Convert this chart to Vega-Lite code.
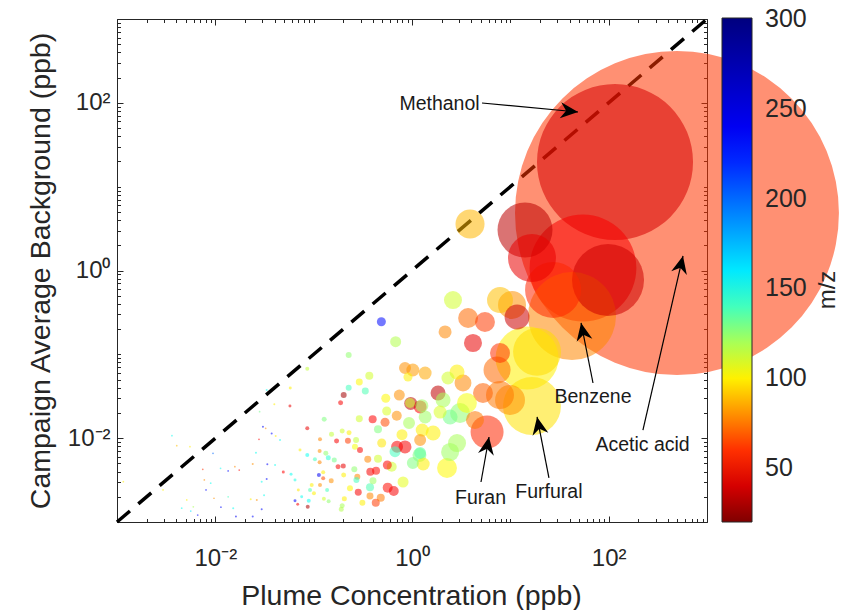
{
  "$schema": "https://vega.github.io/schema/vega-lite/v6.json",
  "width": 590,
  "height": 503,
  "autosize": {"type": "none"},
  "padding": {"left": 117, "top": 19, "right": 138, "bottom": 88},
  "background": "#ffffff",
  "config": {
    "font": "Liberation Sans",
    "view": {"stroke": null},
    "axis": {"grid": false, "domainColor": "#262626", "tickColor": "#262626", "labelColor": "#262626", "titleColor": "#262626", "labelFont": "Liberation Sans", "titleFont": "Liberation Sans", "titleFontWeight": "normal", "labelFlush": false, "labelOverlap": false, "tickWidth": 1, "domainWidth": 1}
  },
  "datasets": {
    "diag": [{"x": 0.001, "y": 0.001}, {"x": 1000, "y": 1000}],
    "notes": [
      {"label": "Methanol", "tx": 1.905, "ty": 96.8, "x1": 5.15, "y1": 99.6, "x2": 48.8, "y2": 77.8},
      {"label": "Benzene", "tx": 69.3, "ty": 0.031, "x1": 69.3, "y1": 0.0455, "x2": 52.4, "y2": 0.2366},
      {"label": "Acetic acid", "tx": 221, "ty": 0.00829, "x1": 223, "y1": 0.0125, "x2": 570, "y2": 1.49},
      {"label": "Furan", "tx": 4.98, "ty": 0.00193, "x1": 5.03, "y1": 0.003, "x2": 6.07, "y2": 0.01033},
      {"label": "Furfural", "tx": 24.7, "ty": 0.00228, "x1": 24.7, "y1": 0.00335, "x2": 18.7, "y2": 0.0179}
    ],
    "pts": [
      {"x": 495, "y": 4.85, "s": 1030, "mz": 61},
      {"x": 116, "y": 19.7, "s": 239, "mz": 40},
      {"x": 54.8, "y": 1.07, "s": 112, "mz": 48},
      {"x": 42.4, "y": 0.286, "s": 76, "mz": 78},
      {"x": 98.5, "y": 0.771, "s": 50.9, "mz": 38},
      {"x": 14.8, "y": 0.0903, "s": 39, "mz": 100},
      {"x": 16.6, "y": 0.0242, "s": 33, "mz": 97},
      {"x": 27.2, "y": 0.586, "s": 30.8, "mz": 58},
      {"x": 14.1, "y": 3.04, "s": 29.7, "mz": 34},
      {"x": 16.6, "y": 1.41, "s": 22.6, "mz": 45},
      {"x": 18.7, "y": 0.107, "s": 22.6, "mz": 96},
      {"x": 5.8, "y": 0.01186, "s": 10.7, "mz": 58},
      {"x": 9.93, "y": 0.0285, "s": 8.8, "mz": 80},
      {"x": 3.89, "y": 3.59, "s": 8.3, "mz": 88},
      {"x": 10.4, "y": 0.388, "s": 7.7, "mz": 80},
      {"x": 7.85, "y": 0.0327, "s": 7.7, "mz": 75},
      {"x": 7.33, "y": 0.065, "s": 7.2, "mz": 72},
      {"x": 7.85, "y": 0.444, "s": 6.6, "mz": 90},
      {"x": 11.7, "y": 0.279, "s": 6.1, "mz": 38},
      {"x": 3.72, "y": 0.271, "s": 3.9, "mz": 72},
      {"x": 5.52, "y": 0.243, "s": 3.9, "mz": 62},
      {"x": 7.85, "y": 0.1038, "s": 3.9, "mz": 60},
      {"x": 5.27, "y": 0.0346, "s": 3.9, "mz": 70},
      {"x": 3.08, "y": 0.02, "s": 3.9, "mz": 125},
      {"x": 3.62, "y": 0.0263, "s": 3.9, "mz": 105},
      {"x": 2.27, "y": 0.0044, "s": 3.9, "mz": 102},
      {"x": 2.61, "y": 0.444, "s": 3.2, "mz": 112},
      {"x": 4.17, "y": 0.1365, "s": 3.2, "mz": 45},
      {"x": 2.44, "y": 0.00684, "s": 3.2, "mz": 122},
      {"x": 2.87, "y": 0.00875, "s": 3.2, "mz": 120},
      {"x": 4.37, "y": 0.0165, "s": 3.2, "mz": 75},
      {"x": 3.3, "y": 0.0455, "s": 2.8, "mz": 78},
      {"x": 2.44, "y": 0.0179, "s": 2.2, "mz": 130},
      {"x": 1.84, "y": 0.0346, "s": 2.2, "mz": 35},
      {"x": 2.07, "y": 0.0285, "s": 2.2, "mz": 120},
      {"x": 2.87, "y": 0.0615, "s": 2.2, "mz": 100},
      {"x": 1.64, "y": 0.01153, "s": 2.2, "mz": 100},
      {"x": 1.19, "y": 0.00629, "s": 1.9, "mz": 128},
      {"x": 2.17, "y": 0.185, "s": 1.66, "mz": 78},
      {"x": 1.02, "y": 0.065, "s": 1.66, "mz": 82},
      {"x": 1.36, "y": 0.0598, "s": 1.66, "mz": 85},
      {"x": 2.32, "y": 0.0522, "s": 1.66, "mz": 112},
      {"x": 1.21, "y": 0.0236, "s": 1.66, "mz": 50},
      {"x": 1.93, "y": 0.0205, "s": 1.66, "mz": 110},
      {"x": 1.36, "y": 0.0179, "s": 1.66, "mz": 122},
      {"x": 0.849, "y": 0.00786, "s": 1.66, "mz": 48},
      {"x": 0.97, "y": 0.026, "s": 1.66, "mz": 35},
      {"x": 1.26, "y": 0.0244, "s": 1.66, "mz": 122},
      {"x": 1.27, "y": 0.0125, "s": 1.66, "mz": 100},
      {"x": 1.3, "y": 0.00492, "s": 1.66, "mz": 100},
      {"x": 1.02, "y": 0.00506, "s": 1.41, "mz": 128},
      {"x": 0.849, "y": 0.0687, "s": 1.41, "mz": 80},
      {"x": 1.21, "y": 0.00665, "s": 1.41, "mz": 135},
      {"x": 1.21, "y": 0.0095, "s": 1.41, "mz": 80},
      {"x": 0.933, "y": 0.0152, "s": 1.41, "mz": 120},
      {"x": 0.705, "y": 0.0079, "s": 1.41, "mz": 48},
      {"x": 0.682, "y": 0.1416, "s": 1.19, "mz": 118},
      {"x": 0.811, "y": 0.003, "s": 1.19, "mz": 108},
      {"x": 0.743, "y": 0.0327, "s": 1.19, "mz": 80},
      {"x": 0.791, "y": 0.011, "s": 1.19, "mz": 100},
      {"x": 0.672, "y": 0.0069, "s": 1.19, "mz": 140},
      {"x": 0.955, "y": 0.0263, "s": 0.98, "mz": 112},
      {"x": 0.7, "y": 0.0185, "s": 0.98, "mz": 80},
      {"x": 0.622, "y": 0.00457, "s": 0.98, "mz": 112},
      {"x": 0.566, "y": 0.00257, "s": 0.98, "mz": 52},
      {"x": 0.652, "y": 0.00234, "s": 0.98, "mz": 48},
      {"x": 0.488, "y": 0.245, "s": 0.8, "mz": 230},
      {"x": 0.91, "y": 0.0537, "s": 0.8, "mz": 100},
      {"x": 0.541, "y": 0.0299, "s": 0.8, "mz": 102},
      {"x": 0.553, "y": 0.0211, "s": 0.8, "mz": 110},
      {"x": 0.532, "y": 0.0155, "s": 0.8, "mz": 65},
      {"x": 0.492, "y": 0.00875, "s": 0.8, "mz": 98},
      {"x": 0.561, "y": 0.00479, "s": 0.8, "mz": 50},
      {"x": 0.368, "y": 0.0556, "s": 0.63, "mz": 112},
      {"x": 0.398, "y": 0.0168, "s": 0.63, "mz": 50},
      {"x": 0.451, "y": 0.0128, "s": 0.63, "mz": 128},
      {"x": 0.451, "y": 0.00569, "s": 0.63, "mz": 112},
      {"x": 0.377, "y": 0.00398, "s": 0.63, "mz": 48},
      {"x": 0.431, "y": 0.00409, "s": 0.63, "mz": 52},
      {"x": 0.374, "y": 0.00259, "s": 0.63, "mz": 138},
      {"x": 0.428, "y": 0.0017, "s": 0.63, "mz": 62},
      {"x": 0.481, "y": 0.00195, "s": 0.63, "mz": 75},
      {"x": 0.291, "y": 0.0468, "s": 0.48, "mz": 102},
      {"x": 0.335, "y": 0.0366, "s": 0.48, "mz": 138},
      {"x": 0.291, "y": 0.0171, "s": 0.48, "mz": 112},
      {"x": 0.355, "y": 0.0056, "s": 0.48, "mz": 78},
      {"x": 0.401, "y": 0.00311, "s": 0.48, "mz": 122},
      {"x": 0.284, "y": 0.00226, "s": 0.48, "mz": 48},
      {"x": 0.374, "y": 0.00204, "s": 0.48, "mz": 78},
      {"x": 0.227, "y": 0.0982, "s": 0.35, "mz": 125},
      {"x": 0.227, "y": 0.04, "s": 0.35, "mz": 140},
      {"x": 0.202, "y": 0.0327, "s": 0.35, "mz": 28},
      {"x": 0.223, "y": 0.00933, "s": 0.35, "mz": 62},
      {"x": 0.27, "y": 0.0095, "s": 0.35, "mz": 115},
      {"x": 0.263, "y": 0.0079, "s": 0.35, "mz": 105},
      {"x": 0.296, "y": 0.00723, "s": 0.35, "mz": 48},
      {"x": 0.259, "y": 0.00425, "s": 0.35, "mz": 125},
      {"x": 0.278, "y": 0.00347, "s": 0.35, "mz": 78},
      {"x": 0.272, "y": 0.00317, "s": 0.35, "mz": 140},
      {"x": 0.234, "y": 0.00252, "s": 0.35, "mz": 102},
      {"x": 0.313, "y": 0.0017, "s": 0.35, "mz": 100},
      {"x": 0.188, "y": 0.0265, "s": 0.245, "mz": 48},
      {"x": 0.128, "y": 0.0168, "s": 0.245, "mz": 128},
      {"x": 0.152, "y": 0.0111, "s": 0.245, "mz": 115},
      {"x": 0.195, "y": 0.0122, "s": 0.245, "mz": 112},
      {"x": 0.229, "y": 0.0116, "s": 0.245, "mz": 100},
      {"x": 0.171, "y": 0.00925, "s": 0.245, "mz": 48},
      {"x": 0.133, "y": 0.0066, "s": 0.245, "mz": 125},
      {"x": 0.141, "y": 0.00585, "s": 0.245, "mz": 145},
      {"x": 0.162, "y": 0.0055, "s": 0.245, "mz": 130},
      {"x": 0.177, "y": 0.00457, "s": 0.245, "mz": 48},
      {"x": 0.2, "y": 0.00466, "s": 0.245, "mz": 45},
      {"x": 0.202, "y": 0.00364, "s": 0.245, "mz": 100},
      {"x": 0.151, "y": 0.00311, "s": 0.245, "mz": 80},
      {"x": 0.205, "y": 0.0019, "s": 0.245, "mz": 100},
      {"x": 0.195, "y": 0.00156, "s": 0.245, "mz": 120},
      {"x": 0.191, "y": 0.00142, "s": 0.245, "mz": 118},
      {"x": 0.0861, "y": 0.0675, "s": 0.157, "mz": 115},
      {"x": 0.0861, "y": 0.0131, "s": 0.157, "mz": 45},
      {"x": 0.116, "y": 0.0097, "s": 0.157, "mz": 78},
      {"x": 0.115, "y": 0.00703, "s": 0.157, "mz": 80},
      {"x": 0.0861, "y": 0.00629, "s": 0.157, "mz": 150},
      {"x": 0.103, "y": 0.0056, "s": 0.157, "mz": 140},
      {"x": 0.115, "y": 0.00515, "s": 0.157, "mz": 78},
      {"x": 0.113, "y": 0.00364, "s": 0.157, "mz": 240},
      {"x": 0.125, "y": 0.00392, "s": 0.157, "mz": 100},
      {"x": 0.125, "y": 0.00332, "s": 0.157, "mz": 65},
      {"x": 0.0955, "y": 0.00276, "s": 0.157, "mz": 100},
      {"x": 0.116, "y": 0.00276, "s": 0.157, "mz": 80},
      {"x": 0.137, "y": 0.00241, "s": 0.157, "mz": 140},
      {"x": 0.0918, "y": 0.00241, "s": 0.157, "mz": 138},
      {"x": 0.1007, "y": 0.0022, "s": 0.157, "mz": 100},
      {"x": 0.0891, "y": 0.00179, "s": 0.157, "mz": 150},
      {"x": 0.087, "y": 0.00152, "s": 0.157, "mz": 30},
      {"x": 0.127, "y": 0.0019, "s": 0.157, "mz": 112},
      {"x": 0.142, "y": 0.00177, "s": 0.157, "mz": 125},
      {"x": 0.0578, "y": 0.0396, "s": 0.088, "mz": 100},
      {"x": 0.0574, "y": 0.0242, "s": 0.088, "mz": 45},
      {"x": 0.0726, "y": 0.00723, "s": 0.088, "mz": 100},
      {"x": 0.0589, "y": 0.00371, "s": 0.088, "mz": 150},
      {"x": 0.0646, "y": 0.00317, "s": 0.088, "mz": 148},
      {"x": 0.0491, "y": 0.00394, "s": 0.088, "mz": 50},
      {"x": 0.0698, "y": 0.00241, "s": 0.088, "mz": 98},
      {"x": 0.0755, "y": 0.002, "s": 0.088, "mz": 150},
      {"x": 0.0646, "y": 0.00179, "s": 0.088, "mz": 235},
      {"x": 0.0688, "y": 0.00163, "s": 0.088, "mz": 48},
      {"x": 0.0333, "y": 0.0376, "s": 0.04, "mz": 150},
      {"x": 0.0398, "y": 0.0254, "s": 0.04, "mz": 100},
      {"x": 0.0282, "y": 0.0207, "s": 0.03, "mz": 130},
      {"x": 0.0305, "y": 0.0137, "s": 0.04, "mz": 240},
      {"x": 0.0325, "y": 0.0131, "s": 0.03, "mz": 80},
      {"x": 0.0374, "y": 0.0114, "s": 0.04, "mz": 230},
      {"x": 0.0411, "y": 0.0106, "s": 0.04, "mz": 100},
      {"x": 0.0455, "y": 0.0095, "s": 0.04, "mz": 150},
      {"x": 0.0278, "y": 0.0097, "s": 0.03, "mz": 50},
      {"x": 0.0259, "y": 0.00671, "s": 0.04, "mz": 150},
      {"x": 0.024, "y": 0.00492, "s": 0.04, "mz": 80},
      {"x": 0.0175, "y": 0.00417, "s": 0.03, "mz": 50},
      {"x": 0.0158, "y": 0.00457, "s": 0.03, "mz": 78},
      {"x": 0.0135, "y": 0.00406, "s": 0.03, "mz": 230},
      {"x": 0.0113, "y": 0.00437, "s": 0.03, "mz": 150},
      {"x": 0.00804, "y": 0.00241, "s": 0.03, "mz": 230},
      {"x": 0.00897, "y": 0.0029, "s": 0.03, "mz": 150},
      {"x": 0.00969, "y": 0.00192, "s": 0.03, "mz": 80},
      {"x": 0.0338, "y": 0.00488, "s": 0.04, "mz": 235},
      {"x": 0.0405, "y": 0.00479, "s": 0.04, "mz": 150},
      {"x": 0.0333, "y": 0.00326, "s": 0.04, "mz": 230},
      {"x": 0.0296, "y": 0.00303, "s": 0.04, "mz": 150},
      {"x": 0.0264, "y": 0.00183, "s": 0.04, "mz": 80},
      {"x": 0.0313, "y": 0.00208, "s": 0.04, "mz": 150},
      {"x": 0.0296, "y": 0.00142, "s": 0.04, "mz": 230},
      {"x": 0.024, "y": 0.00116, "s": 0.04, "mz": 230},
      {"x": 0.0162, "y": 0.00116, "s": 0.04, "mz": 240},
      {"x": 0.0152, "y": 0.00146, "s": 0.04, "mz": 150},
      {"x": 0.00562, "y": 0.00135, "s": 0.03, "mz": 160},
      {"x": 0.00405, "y": 0.00812, "s": 0.03, "mz": 90},
      {"x": 0.00362, "y": 0.0107, "s": 0.03, "mz": 150},
      {"x": 0.00552, "y": 0.0079, "s": 0.03, "mz": 100},
      {"x": 0.00745, "y": 0.00425, "s": 0.03, "mz": 60},
      {"x": 0.00773, "y": 0.00317, "s": 0.03, "mz": 80},
      {"x": 0.00947, "y": 0.0066, "s": 0.03, "mz": 200},
      {"x": 0.00294, "y": 0.00241, "s": 0.03, "mz": 100},
      {"x": 0.00455, "y": 0.00146, "s": 0.03, "mz": 150},
      {"x": 0.00597, "y": 0.00152, "s": 0.03, "mz": 120},
      {"x": 0.00662, "y": 0.00121, "s": 0.03, "mz": 230},
      {"x": 0.0229, "y": 0.00187, "s": 0.04, "mz": 100},
      {"x": 0.0114, "y": 0.0015, "s": 0.03, "mz": 230},
      {"x": 0.00512, "y": 0.00183, "s": 0.03, "mz": 100},
      {"x": 0.0135, "y": 0.002, "s": 0.03, "mz": 140},
      {"x": 0.00116, "y": 0.00303, "s": 0.03, "mz": 100}
    ]
  },
  "resolve": {"axis": {"x": "independent", "y": "independent"}},
  "layer": [
    {
      "data": {"name": "diag"},
      "mark": {"type": "line", "color": "#000000", "strokeWidth": 3.5, "strokeDash": [17, 11]},
      "encoding": {
        "x": {"field": "x", "type": "quantitative", "scale": {"type": "log", "domain": [0.001, 1000]},
          "axis": {"orient": "bottom", "values": [0.01, 1, 100], "tickSize": -6, "labelFontSize": 24, "labelPadding": 49.5, "labelBaseline": "alphabetic",
            "labelExpr": "datum.value < 0.1 ? '10⁻²' : datum.value < 10 ? '10⁰' : '10²'",
            "title": "Plume Concentration (ppb)", "titleFontSize": 28.5, "titleX": 294, "titleY": 82, "titleBaseline": "alphabetic", "titleAlign": "center"}},
        "y": {"field": "y", "type": "quantitative", "scale": {"type": "log", "domain": [0.001, 1000]},
          "axis": {"orient": "left", "values": [0.01, 1, 100], "tickSize": -6, "labelFontSize": 24, "labelPadding": 13, "labelBaseline": "middle",
            "labelExpr": "datum.value < 0.1 ? '10⁻²' : datum.value < 10 ? '10⁰' : '10²'",
            "title": "Campaign Average Background (ppb)", "titleFontSize": 28.5, "titleX": -68, "titleY": 251.5, "titleAngle": -90, "titleBaseline": "alphabetic", "titleAlign": "center"}}
      }
    },
    {
      "data": {"name": "pts"},
      "mark": {"type": "circle", "opacity": 1, "fillOpacity": 0.55, "strokeWidth": 0},
      "encoding": {
        "x": {"field": "x", "type": "quantitative", "scale": {"type": "log", "domain": [0.001, 1000]},
          "axis": {"orient": "bottom", "values": [0.001,0.002,0.003,0.004,0.005,0.006,0.007,0.008,0.009,0.02,0.03,0.04,0.05,0.06,0.07,0.08,0.09,0.1,0.2,0.3,0.4,0.5,0.6,0.7,0.8,0.9,2,3,4,5,6,7,8,9,10,20,30,40,50,60,70,80,90,200,300,400,500,600,700,800,900,1000], "tickSize": -3.5, "labels": false, "domain": false, "title": null}},
        "y": {"field": "y", "type": "quantitative", "scale": {"type": "log", "domain": [0.001, 1000]},
          "axis": {"orient": "left", "values": [0.001,0.002,0.003,0.004,0.005,0.006,0.007,0.008,0.009,0.02,0.03,0.04,0.05,0.06,0.07,0.08,0.09,0.1,0.2,0.3,0.4,0.5,0.6,0.7,0.8,0.9,2,3,4,5,6,7,8,9,10,20,30,40,50,60,70,80,90,200,300,400,500,600,700,800,900,1000], "tickSize": -3.5, "labels": false, "domain": false, "title": null}},
        "color": {"field": "mz", "type": "quantitative",
          "scale": {"domain": [20, 50, 103, 153, 233, 300.5], "range": ["#800000", "#ff0000", "#ffff00", "#00ffff", "#0000ff", "#00007f"], "interpolate": "rgb"},
          "legend": {"orient": "none", "legendX": 605, "legendY": -1, "direction": "vertical", "gradientLength": 504, "gradientThickness": 30,
            "gradientStrokeColor": "#262626", "gradientStrokeWidth": 1, "gradientOpacity": 1, "values": [50, 100, 150, 200, 250, 300],
            "labelFontSize": 25, "labelColor": "#262626", "labelFont": "Liberation Sans", "labelOffset": 13, "labelBaseline": "middle",
            "title": "m/z", "titleOrient": "right", "titleFontSize": 24, "titleFontWeight": "normal", "titleColor": "#262626", "titleFont": "Liberation Sans",
            "titlePadding": 8, "titleAnchor": "middle", "titleAlign": "center", "titleBaseline": "middle",
            "encode": {"title": {"update": {"angle": {"value": -90}, "dx": {"value": -20}, "dy": {"value": 13}}}, "gradient": {"update": {"opacity": {"value": 1}}}}}},
        "size": {"field": "s", "type": "quantitative", "scale": {"domain": [0, 1000], "range": [0, 101860]}, "legend": null}
      }
    },
    {
      "data": {"name": "notes"},
      "mark": {"type": "rule", "color": "#000000", "strokeWidth": 1.2},
      "encoding": {
        "x": {"field": "x1", "type": "quantitative", "scale": {"type": "log", "domain": [0.001, 1000]},
          "axis": {"orient": "top", "values": [0.01, 1, 100], "tickSize": -6, "labels": false, "title": null}},
        "y": {"field": "y1", "type": "quantitative", "scale": {"type": "log", "domain": [0.001, 1000]},
          "axis": {"orient": "right", "values": [0.01, 1, 100], "tickSize": -6, "labels": false, "title": null}},
        "x2": {"field": "x2"},
        "y2": {"field": "y2"}
      }
    },
    {
      "data": {"name": "notes"},
      "transform": [{"calculate": "atan2((log(datum.x2) - log(datum.x1)) * 98.33, (log(datum.y2) - log(datum.y1)) * 83.83) * 180 / PI", "as": "ang"}],
      "mark": {"type": "point", "shape": "M0,0L0.5,1.1L0,0.75L-0.5,1.1Z", "filled": true, "color": "#000000", "opacity": 1, "size": 1024, "strokeWidth": 0},
      "encoding": {
        "x": {"field": "x2", "type": "quantitative", "scale": {"type": "log", "domain": [0.001, 1000]},
          "axis": {"orient": "top", "values": [0.001,0.002,0.003,0.004,0.005,0.006,0.007,0.008,0.009,0.02,0.03,0.04,0.05,0.06,0.07,0.08,0.09,0.1,0.2,0.3,0.4,0.5,0.6,0.7,0.8,0.9,2,3,4,5,6,7,8,9,10,20,30,40,50,60,70,80,90,200,300,400,500,600,700,800,900,1000], "tickSize": -3.5, "labels": false, "domain": false, "title": null}},
        "y": {"field": "y2", "type": "quantitative", "scale": {"type": "log", "domain": [0.001, 1000]},
          "axis": {"orient": "right", "values": [0.001,0.002,0.003,0.004,0.005,0.006,0.007,0.008,0.009,0.02,0.03,0.04,0.05,0.06,0.07,0.08,0.09,0.1,0.2,0.3,0.4,0.5,0.6,0.7,0.8,0.9,2,3,4,5,6,7,8,9,10,20,30,40,50,60,70,80,90,200,300,400,500,600,700,800,900,1000], "tickSize": -3.5, "labels": false, "domain": false, "title": null}},
        "angle": {"field": "ang", "type": "quantitative", "scale": null}
      }
    },
    {
      "data": {"name": "notes"},
      "mark": {"type": "text", "fontSize": 19.5, "font": "Liberation Sans", "color": "#1a1a1a", "baseline": "middle", "align": "center"},
      "encoding": {
        "x": {"field": "tx", "type": "quantitative", "scale": {"type": "log", "domain": [0.001, 1000]}, "axis": null},
        "y": {"field": "ty", "type": "quantitative", "scale": {"type": "log", "domain": [0.001, 1000]}, "axis": null},
        "text": {"field": "label"}
      }
    }
  ]
}
